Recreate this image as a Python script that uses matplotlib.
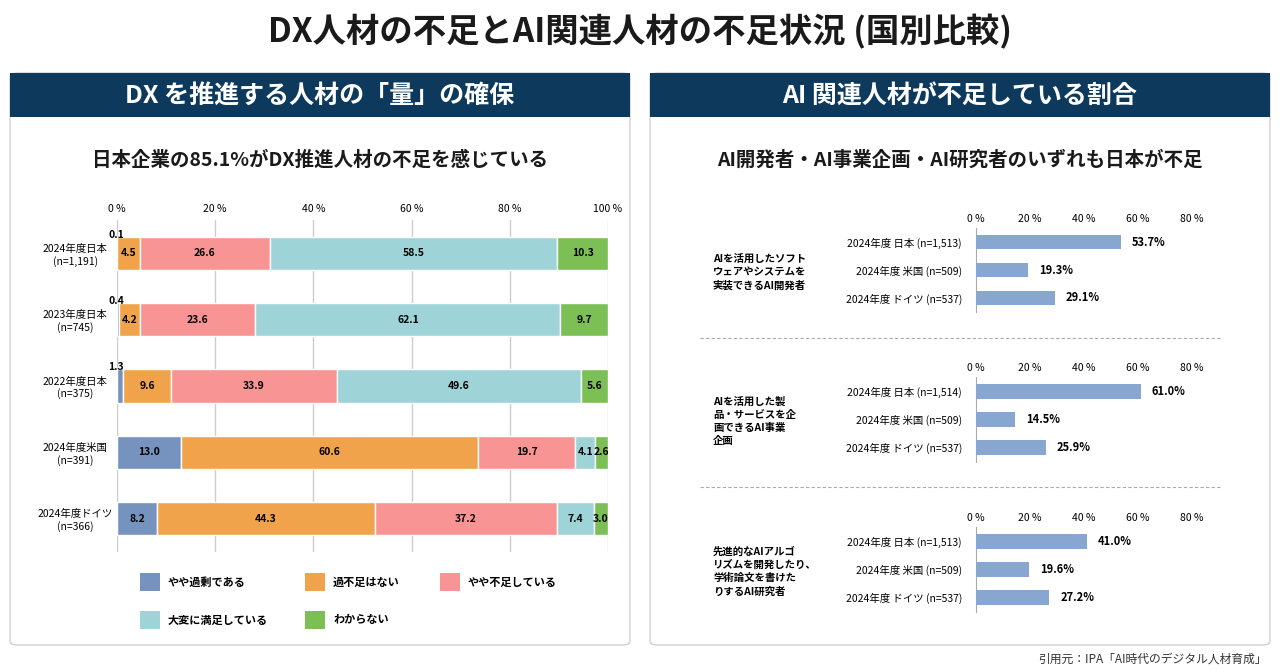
import matplotlib
matplotlib.use("Agg")
import matplotlib.pyplot as plt
from matplotlib.patches import FancyBboxPatch, Rectangle
from matplotlib.lines import Line2D

plt.rcParams['font.family'] = ['Noto Sans CJK JP', 'DejaVu Sans']

W, H = 1280, 670
# ---- data ----
left_rows = ["2024年度日本\n(n=1,191)", "2023年度日本\n(n=745)", "2022年度日本\n(n=375)",
             "2024年度米国\n(n=391)", "2024年度ドイツ\n(n=366)"]
left_series = ["やや過剰である", "過不足はない", "やや不足している", "大変に満足している", "わからない"]
v_kajo = [0.1, 0.4, 1.3, 13.0, 8.2]
v_kafusoku = [4.5, 4.2, 9.6, 60.6, 44.3]
v_yaya = [26.6, 23.6, 33.9, 19.7, 37.2]
v_taihen = [58.5, 62.1, 49.6, 4.1, 7.4]
v_wakaranai = [10.3, 9.7, 5.6, 2.6, 3.0]
left_colors = ["#7692be", "#f0a34a", "#f89594", "#9ed3d8", "#7bbf55"]

right_rows = ["2024年度 日本 (n=1,513)", "2024年度 米国 (n=509)", "2024年度 ドイツ (n=537)"]
right_rows2 = ["2024年度 日本 (n=1,514)", "2024年度 米国 (n=509)", "2024年度 ドイツ (n=537)"]
groups = ["AIを活用したソフト\nウェアやシステムを\n実装できるAI開発者",
          "AIを活用した製\n品・サービスを企\n画できるAI事業\n企画",
          "先進的なAIアルゴ\nリズムを開発したり、\n学術論文を書けた\nりするAI研究者"]
dev_vals = [53.7, 19.3, 29.1]
biz_vals = [61.0, 14.5, 25.9]
res_vals = [41.0, 19.6, 27.2]

fig = plt.figure(figsize=(12.8, 6.7), dpi=100)
fig.patch.set_facecolor("white")

def fx(x): return x / W
def fy(y): return 1 - y / H
def axpx(x0, y0, x1, y1):
    a = fig.add_axes([fx(x0), fy(y1), fx(x1 - x0), (y1 - y0) / H])
    a.set_zorder(5)
    a.patch.set_alpha(0)
    return a

navy = "#0d3a5c"
# title
fig.text(0.5, fy(32), "DX人材の不足とAI関連人材の不足状況 (国別比較)", ha="center", va="center",
         fontsize=24, fontweight="bold", color="#1a1a1a")
# panels
for x0 in (10, 650):
    fig.patches.append(FancyBboxPatch((fx(x0), fy(645)), fx(620), 572 / H,
                                      boxstyle="round,pad=0,rounding_size=0.006",
                                      transform=fig.transFigure, facecolor="white",
                                      edgecolor="#d0d0d0", lw=1))
    fig.patches.append(Rectangle((fx(x0), fy(117)), fx(620), 44 / H, transform=fig.transFigure,
                                 facecolor=navy, edgecolor="none"))
fig.text(fx(320), fy(96), "DX を推進する人材の「量」の確保", ha="center", va="center",
         fontsize=18, fontweight="bold", color="white")
fig.text(fx(960), fy(96), "AI 関連人材が不足している割合", ha="center", va="center",
         fontsize=18, fontweight="bold", color="white")
fig.text(fx(320), fy(160), "日本企業の85.1%がDX推進人材の不足を感じている", ha="center", va="center",
         fontsize=14, fontweight="bold", color="#1a1a1a")
fig.text(fx(960), fy(160), "AI開発者・AI事業企画・AI研究者のいずれも日本が不足", ha="center", va="center",
         fontsize=14, fontweight="bold", color="#1a1a1a")

# ---- left chart ----
ax = axpx(117, 220, 608, 552)
series = [v_kajo, v_kafusoku, v_yaya, v_taihen, v_wakaranai]
ypos = list(range(len(left_rows)))
lefts = [0.0] * len(left_rows)
for vals, col in zip(series, left_colors):
    ax.barh(ypos, vals, left=lefts, height=0.5, color=col, edgecolor="white", lw=1, zorder=3)
    for i, (v, l) in enumerate(zip(vals, lefts)):
        if v < 2:
            ax.text(l - 1.8, i - 0.28, f"{v:.1f}", ha="left", va="center", fontsize=7.5,
                    fontweight="bold", zorder=4)
        else:
            ax.text(l + v / 2, i, f"{v:.1f}", ha="center", va="center", fontsize=7.5,
                    fontweight="bold", zorder=4)
    lefts = [a + b for a, b in zip(lefts, vals)]
ax.set_xlim(0, 100)
ax.set_ylim(4.5, -0.5)
ax.set_yticks(ypos)
ax.set_yticklabels(left_rows, fontsize=7.5, ha="center")
ax.tick_params(axis="y", length=0, pad=30)
ax.xaxis.tick_top()
ax.set_xticks([0, 20, 40, 60, 80, 100])
ax.set_xticklabels([f"{t} %" for t in [0, 20, 40, 60, 80, 100]], fontsize=7.5)
ax.tick_params(axis="x", length=0, pad=4)
ax.grid(axis="x", color="#cccccc", lw=1, zorder=0)
for s in ax.spines.values():
    s.set_visible(False)

# legend
leg_pos = [(140, 582), (305, 582), (440, 582), (140, 620), (305, 620)]
for (lx, ly), name, col in zip(leg_pos, left_series, left_colors):
    fig.patches.append(Rectangle((fx(lx), fy(ly + 9)), fx(20), 18 / H, transform=fig.transFigure,
                                 facecolor=col, edgecolor="none"))
    fig.text(fx(lx + 28), fy(ly), name, ha="left", va="center", fontsize=8, fontweight="bold")

# ---- right charts ----
bar_col = "#87a7d0"
for (y0, y1), vals, gname, labels in zip([(228, 312), (377, 462), (527, 612)],
                                         [dev_vals, biz_vals, res_vals], groups,
                                         [right_rows, right_rows2, right_rows]):
    a = axpx(976, y0, 1192, y1)
    yy = list(range(3))
    a.barh(yy, vals, height=0.52, color=bar_col, zorder=3)
    for i, v in enumerate(vals):
        a.text(v + 4, i, f"{v:.1f}%", ha="left", va="center", fontsize=8, fontweight="bold")
    a.set_xlim(0, 80)
    a.set_ylim(2.5, -0.5)
    a.set_yticks(yy)
    a.set_yticklabels(labels, fontsize=7.5)
    a.tick_params(axis="y", length=0, pad=10)
    a.xaxis.tick_top()
    a.set_xticks([0, 20, 40, 60, 80])
    a.set_xticklabels([f"{t} %" for t in [0, 20, 40, 60, 80]], fontsize=7.5)
    a.tick_params(axis="x", length=0, pad=3)
    for k, s in a.spines.items():
        s.set_visible(k == "left")
    a.spines["left"].set_color("#aaaaaa")
    fig.text(fx(713), fy((y0 + y1) / 2 + 2), gname, ha="left", va="center", fontsize=7.5,
             fontweight="bold", linespacing=1.4)

for sy in (338, 487):
    fig.lines.append(Line2D([fx(700), fx(1220)], [fy(sy), fy(sy)], transform=fig.transFigure,
                            color="#aaaaaa", lw=0.8, ls=(0, (3, 2))))

fig.text(fx(1267), fy(659), "引用元：IPA「AI時代のデジタル人材育成」", ha="right", va="center",
         fontsize=8.5, color="#333333")

fig.savefig("out.png", dpi=100)
